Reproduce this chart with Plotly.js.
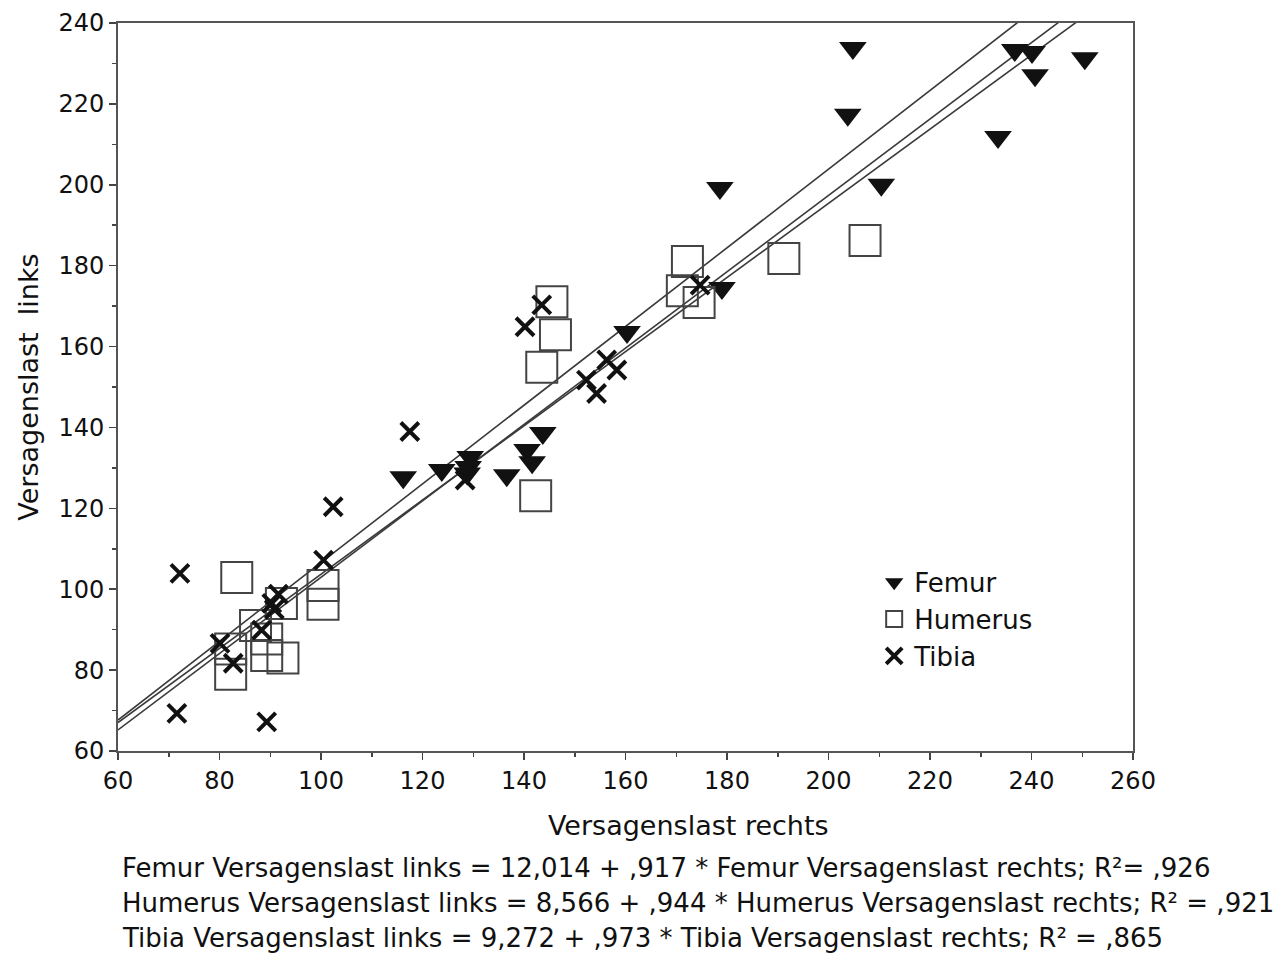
<!DOCTYPE html>
<html>
<head>
<meta charset="utf-8">
<script src="https://cdn.plot.ly/plotly-3.0.1.min.js"></script>
<style>
  html, body { margin: 0; padding: 0; background: #fff; }
  #chart { width: 1287px; height: 956px; }
</style>
</head>
<body>
<div id="chart"></div>
<script>
// Failure load, right vs. left side, per bone
const femurRechts = [116.2, 123.8, 129.4, 129.0, 128.8, 136.6, 140.6, 141.6, 143.7, 160.3, 178.6, 179.0, 210.4, 204.8, 203.8, 233.4, 236.7, 240.1, 240.7, 250.5];
const femurLinks  = [127.7, 129.5, 132.7, 130.2, 128.6, 128.2, 134.4, 131.4, 138.6, 163.6, 199.2, 174.5, 200.0, 233.8, 217.3, 211.8, 233.3, 232.8, 227.1, 231.3];

const humerusRechts = [83.4, 82.2, 82.2, 87.1, 89.3, 89.3, 92.5, 92.2, 100.4, 100.4, 145.5, 146.2, 143.5, 142.3, 172.2, 171.2, 174.5, 191.2, 207.2];
const humerusLinks  = [102.9, 79.0, 85.2, 91.0, 87.7, 83.6, 83.0, 96.5, 100.9, 96.3, 171.1, 162.9, 154.9, 123.1, 181.0, 173.8, 170.9, 181.8, 186.2];

const tibiaRechts = [72.2, 71.6, 89.3, 80.1, 82.7, 88.3, 90.3, 91.6, 90.8, 100.5, 102.4, 117.5, 143.5, 140.2, 128.4, 156.3, 158.3, 152.3, 154.3, 174.7];
const tibiaLinks  = [103.9, 69.3, 67.2, 86.6, 81.7, 89.9, 96.5, 98.8, 95.0, 107.2, 120.4, 139.0, 170.3, 164.9, 127.0, 156.7, 154.2, 151.7, 148.4, 175.2];

// Linear fits: links = a + b * rechts
const fitNames = ['Femur', 'Humerus', 'Tibia'];
const fitA = [12.014, 8.566, 9.272];
const fitB = [0.917, 0.944, 0.973];
const fitTexts = [
  'Femur Versagenslast links = 12,014 + ,917 * Femur Versagenslast rechts; R²= ,926',
  'Humerus Versagenslast links = 8,566 + ,944 * Humerus Versagenslast rechts; R² = ,921',
  'Tibia Versagenslast links = 9,272 + ,973 * Tibia Versagenslast rechts; R² = ,865'
];

const xRange = [60, 260];
const yRange = [60, 240];

const FONT = 'DejaVu Sans, Verdana, sans-serif';

const traces = [];

// regression lines (clipped by the plot area)
fitNames.forEach((name, i) => {
  traces.push({
    type: 'scatter', mode: 'lines', showlegend: false, hoverinfo: 'skip',
    x: xRange,
    y: xRange.map(v => fitA[i] + fitB[i] * v),
    line: { color: '#3a3a3a', width: 1.6 }
  });
});

traces.push({
  type: 'scatter', mode: 'markers', name: 'Femur',
  x: femurRechts, y: femurLinks,
  marker: { symbol: 'triangle-down', size: 24, color: '#111', line: { width: 0 } }
});
traces.push({
  type: 'scatter', mode: 'markers', name: 'Humerus',
  x: humerusRechts, y: humerusLinks,
  marker: { symbol: 'square-open', size: 31, color: '#444', line: { width: 2, color: '#444' } }
});
traces.push({
  type: 'scatter', mode: 'markers', name: 'Tibia',
  x: tibiaRechts, y: tibiaLinks,
  marker: { symbol: 'x-thin-open', size: 18, color: '#111', line: { width: 4, color: '#111' } }
});

// fit equations below the axis
const annotations = fitTexts.map((t, i) => ({
  xref: 'paper', yref: 'paper', x: 0.0, y: -0.161 - i * 0.048,
  xshift: 2, xanchor: 'left', yanchor: 'middle', showarrow: false, align: 'left',
  text: t, font: { family: FONT, size: 26, color: '#111' }
}));

// x-axis title, set right of centre
annotations.push({
  xref: 'paper', yref: 'paper', x: 0.5616, y: -0.103,
  xanchor: 'center', yanchor: 'middle', showarrow: false,
  text: 'Versagenslast rechts', font: { family: FONT, size: 27, color: '#111' }
});

const layout = {
  width: 1287, height: 956,
  margin: { l: 118, r: 154, t: 23, b: 205 },
  paper_bgcolor: '#fff', plot_bgcolor: '#fff',
  font: { family: FONT, color: '#111' },
  showlegend: true,
  legend: {
    x: 0.745, y: 0.264, xanchor: 'left', yanchor: 'top',
    bgcolor: 'rgba(0,0,0,0)', borderwidth: 0,
    font: { family: FONT, size: 26, color: '#111' },
    itemwidth: 30
  },
  xaxis: {
    range: xRange, dtick: 20, tick0: 60,
    showgrid: false, zeroline: false,
    showline: true, mirror: true, linecolor: '#555', linewidth: 2,
    ticks: 'outside', ticklen: 7, tickwidth: 1.5, tickcolor: '#444',
    minor: { dtick: 10, ticks: 'outside', ticklen: 4, tickcolor: '#444', showgrid: false },
    tickfont: { family: FONT, size: 24, color: '#111' }
  },
  yaxis: {
    range: yRange, dtick: 20, tick0: 60,
    showgrid: false, zeroline: false,
    showline: true, mirror: true, linecolor: '#555', linewidth: 2,
    ticks: 'outside', ticklen: 7, tickwidth: 1.5, tickcolor: '#444',
    minor: { dtick: 10, ticks: 'outside', ticklen: 4, tickcolor: '#444', showgrid: false },
    tickfont: { family: FONT, size: 24, color: '#111' },
    title: { text: 'Versagenslast  links', font: { family: FONT, size: 27, color: '#111' }, standoff: 12 }
  },
  annotations: annotations
};

Plotly.newPlot('chart', traces, layout, { displayModeBar: false, staticPlot: true });
</script>
</body>
</html>
